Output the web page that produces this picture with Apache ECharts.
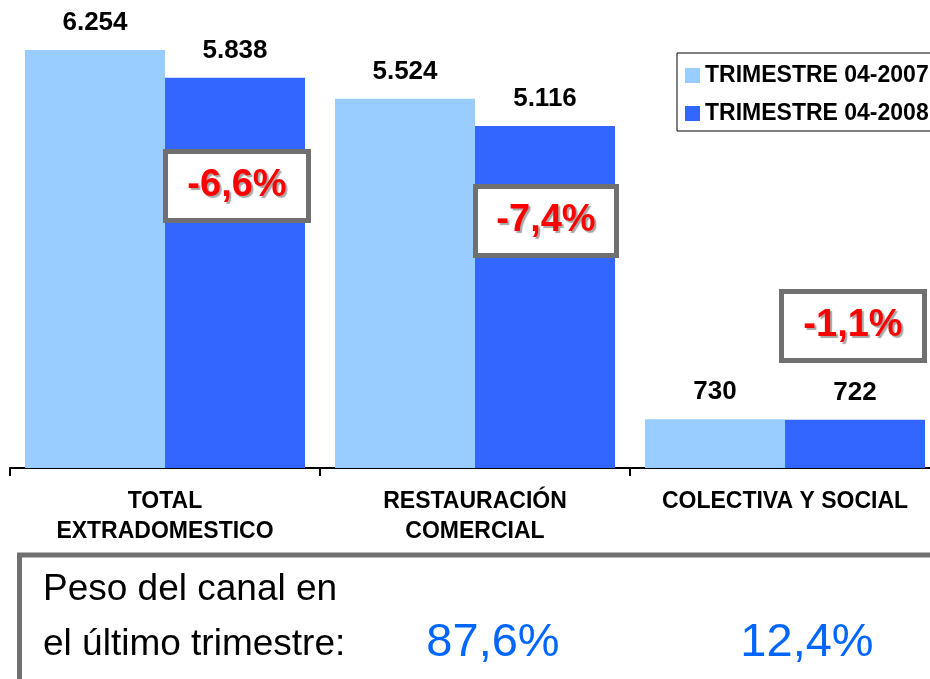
<!DOCTYPE html>
<html>
<head>
<meta charset="utf-8">
<script src="https://cdn.jsdelivr.net/npm/echarts@6/dist/echarts.min.js"></script>
<style>
  html, body { margin: 0; padding: 0; background: #fff; overflow: hidden; }
  /* el gráfico original está recortado por la derecha */
  #chart { width: 940px; height: 679px; }
</style>
</head>
<body>
<div id="chart"></div>
<script>
// datos del gráfico
var categories = ['TOTAL\nEXTRADOMESTICO', 'RESTAURACIÓN\nCOMERCIAL', 'COLECTIVA Y SOCIAL']
var seriesNames = ['TRIMESTRE 04-2007', 'TRIMESTRE 04-2008']
var values2007 = [6254, 5524, 730]
var values2008 = [5838, 5116, 722]
var changes = ['-6,6%', '-7,4%', '-1,1%']
var shares = ['87,6%', '12,4%']

var colors = ['#99CCFF', '#3366FF']
var fontFam = 'Arial, "Liberation Sans", sans-serif'

function fmtMiles(v) {
  if (v < 1000) return String(v)
  var r = v % 1000
  return Math.floor(v / 1000) + '.' + (r < 10 ? '00' : r < 100 ? '0' : '') + r
}

// cajas de variación (posición en píxeles)
var boxes = [
  { x: 165.5, y: 151.5, w: 143, h: 69 },
  { x: 475.5, y: 186.5, w: 141, h: 69 },
  { x: 781.5, y: 291.5, w: 143, h: 69 }
]

var graphics = []
boxes.forEach(function (b, i) {
  graphics.push({
    type: 'rect', z: 100,
    shape: { x: b.x, y: b.y, width: b.w, height: b.h },
    style: { fill: '#fff', stroke: '#707070', lineWidth: 5 }
  })
  graphics.push({
    type: 'text', z: 101,
    x: b.x + b.w / 2, y: b.y + b.h / 2,
    style: {
      text: changes[i], fill: '#FF0000',
      font: 'bold 38px ' + fontFam,
      align: 'center', verticalAlign: 'middle',
      textShadowColor: 'rgba(0,0,0,0.35)', textShadowOffsetX: 2, textShadowOffsetY: 2, textShadowBlur: 1
    }
  })
})

// recuadro inferior
graphics.push({
  type: 'rect', z: 50,
  shape: { x: 19.5, y: 555, width: 1000, height: 200 },
  style: { fill: '#fff', stroke: '#707070', lineWidth: 5 }
})
graphics.push({
  type: 'text', z: 51, x: 43, y: 590,
  style: { text: 'Peso del canal en', fill: '#000', font: '37px ' + fontFam, verticalAlign: 'middle' }
})
graphics.push({
  type: 'text', z: 51, x: 43, y: 645,
  style: { text: 'el último trimestre:', fill: '#000', font: '37px ' + fontFam, verticalAlign: 'middle' }
})
var shareX = [493, 807]
shares.forEach(function (s, i) {
  graphics.push({
    type: 'text', z: 51, x: shareX[i], y: 643,
    style: { text: s, fill: '#0066FF', font: '47px ' + fontFam, align: 'center', verticalAlign: 'middle' }
  })
})

var labelStyle = {
  show: true,
  position: 'top',
  distance: 14,
  color: '#000',
  fontFamily: fontFam,
  fontWeight: 'bold',
  fontSize: 26,
  formatter: function (p) { return fmtMiles(p.value) }
}

var chart = echarts.init(document.getElementById('chart'))
chart.setOption({
  animation: false,
  color: colors,
  grid: { left: 10, right: 0, top: 33.6, bottom: 211, containLabel: false },
  legend: {
    orient: 'vertical',
    left: 677, top: 53,
    padding: [11, 40, 6, 8],
    itemWidth: 15, itemHeight: 15, itemGap: 15,
    borderColor: '#000', borderWidth: 1,
    icon: 'rect',
    textStyle: { color: '#000', fontWeight: 'bold', fontSize: 23, fontFamily: fontFam },
    data: seriesNames
  },
  xAxis: {
    type: 'category',
    data: categories,
    axisLine: { lineStyle: { color: '#000', width: 2 } },
    axisTick: { show: true, length: 8, lineStyle: { color: '#000', width: 2 } },
    axisLabel: {
      color: '#000', fontWeight: 'bold', fontSize: 23, lineHeight: 30, margin: 19,
      fontFamily: fontFam, interval: 0
    }
  },
  yAxis: {
    type: 'value', min: 0, max: 6500,
    show: false, splitLine: { show: false }
  },
  series: [
    { name: seriesNames[0], type: 'bar', data: values2007, barWidth: 140, barGap: '0%', label: labelStyle },
    { name: seriesNames[1], type: 'bar', data: values2008, barWidth: 140, barGap: '0%', label: labelStyle }
  ],
  graphic: graphics
})
window.addEventListener('resize', function () { chart.resize() })
</script>
</body>
</html>
